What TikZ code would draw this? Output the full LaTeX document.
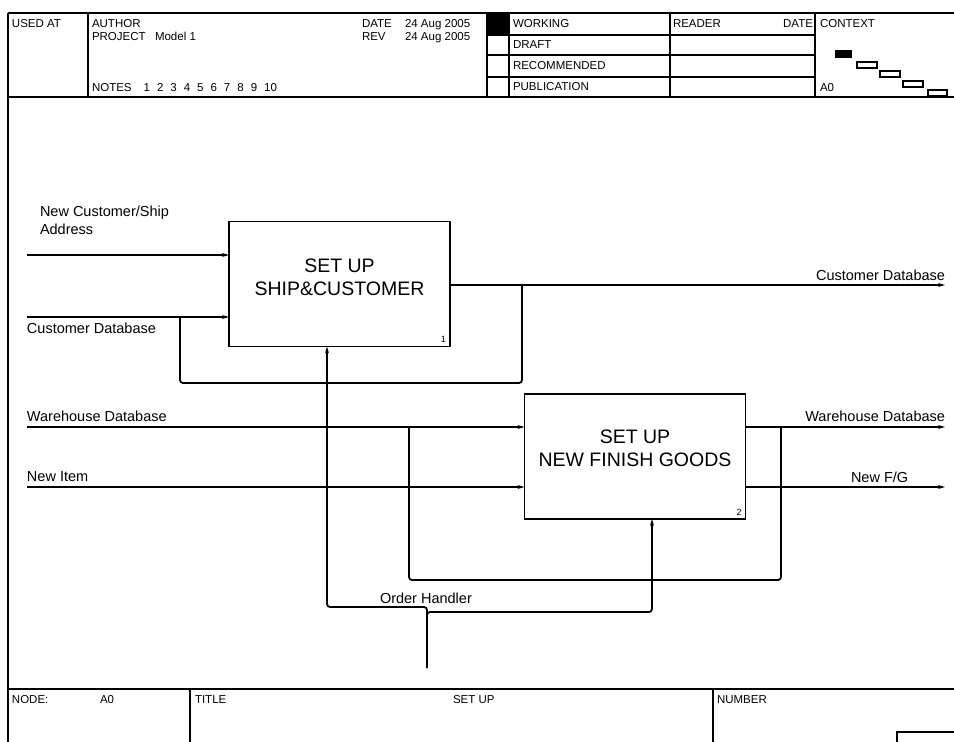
\documentclass[tikz,border=0pt]{standalone}
\usepackage{fontspec}
\setmainfont{Liberation Sans}
\usetikzlibrary{arrows.meta,positioning,calc}

\begin{document}
\begin{tikzpicture}[
    x=1pt, y=-1pt,
    every node/.style={inner sep=0pt, outer sep=0pt},
    process/.style={rectangle, draw, line width=1.8pt, minimum width=221pt, minimum height=125pt},
    boxtext/.style={align=center, font=\fontsize{19.5}{23}\selectfont},
    boxno/.style={anchor=south east, font=\fontsize{9}{10}\selectfont},
    lbl/.style={anchor=west, align=left, font=\fontsize{14.5}{18}\selectfont},
    hdr/.style={anchor=west, text height=8.5pt, text depth=1.5pt, font=\fontsize{11.5}{12}\selectfont},
    form/.style={line width=1.4pt},
    flow/.style={line width=1.8pt, rounded corners=3pt},
    arrow/.style={flow, -{Stealth[length=7pt,width=4pt]}}
]
\useasboundingbox (0,0) rectangle (954,742);

% Header form
\draw[form] (8,13) -- (954,13);
\draw[form] (8,97) -- (954,97);
\draw[form] (8,13) -- (8,742);
\foreach \xx in {88,487,509,670,815} \draw[form] (\xx,13) -- (\xx,97);
\foreach \yy in {35,55,77} \draw[form] (487,\yy) -- (815,\yy);
\fill (487,13) rectangle (509,35);

\node[hdr] (used_at) at (12,24) {USED AT};
\node[hdr] (author) at (92,24) {AUTHOR};
\node[hdr] (project) at (92,37) {PROJECT};
\node[hdr] (model) at (155,37) {Model 1};
\node[hdr] (notes) at (92,88) {NOTES\hspace{12pt}1\hspace{7pt}2\hspace{7pt}3\hspace{7pt}4\hspace{7pt}5\hspace{7pt}6\hspace{7pt}7\hspace{7pt}8\hspace{7pt}9\hspace{7pt}10};
\node[hdr] (date) at (362,24) {DATE};
\node[hdr] (date_val) at (405,24) {24 Aug 2005};
\node[hdr] (rev) at (362,37) {REV};
\node[hdr] (rev_val) at (405,37) {24 Aug 2005};
\node[hdr] (working) at (513,24) {WORKING};
\node[hdr] (draft) at (513,45) {DRAFT};
\node[hdr] (recommended) at (513,66) {RECOMMENDED};
\node[hdr] (publication) at (513,87) {PUBLICATION};
\node[hdr] (reader) at (673,24) {READER};
\node[hdr, anchor=east] (reader_date) at (813,24) {DATE};
\node[hdr] (context) at (820,24) {CONTEXT};
\node[hdr] (context_node) at (820,88) {A0};

% Context boxes
\fill (835,50) rectangle (852,58);
\draw[form] (857,62) rectangle (877,68);
\draw[form] (880,71) rectangle (900,77);
\draw[form] (903,81) rectangle (923,87);
\draw[form] (928,90) rectangle (947,96);

% Footer form
\draw[line width=2.5pt] (8,689) -- (954,689);
\draw[form] (190,689) -- (190,742);
\draw[form] (713,689) -- (713,742);
\draw[form] (954,732) -- (897,732) -- (897,742);
\node[hdr] (node_lbl) at (12,700) {NODE:};
\node[hdr] (node_val) at (100,700) {A0};
\node[hdr] (title_lbl) at (195,700) {TITLE};
\node[hdr] (title_val) at (453,700) {SET UP};
\node[hdr] (number_lbl) at (717,700) {NUMBER};

% Activity boxes
\node[process] (ship_cust) at (339.5,284) {};
\node[boxtext] (ship_cust_txt) at ($(ship_cust)+(0,-7)$) {SET UP\\SHIP\&CUSTOMER};
\node[boxno] (ship_cust_no) at ($(ship_cust.south east)+(-4,-4)$) {1};

\node[process] (new_goods) at (635,456.5) {};
\node[boxtext] (new_goods_txt) at ($(new_goods)+(0,-8)$) {SET UP\\NEW FINISH GOODS};
\node[boxno] (new_goods_no) at ($(new_goods.south east)+(-4,-4)$) {2};

% Free ends
\coordinate (in_addr) at (27,255);
\coordinate (in_cust) at (27,317);
\coordinate (out_cust) at (945,285);
\coordinate (in_wh) at (27,427);
\coordinate (in_item) at (27,487);
\coordinate (out_wh) at (945,427);
\coordinate (out_fg) at (945,487);
\coordinate (order_in) at (427,668);

% Connections
\draw[arrow] (in_addr) -- (in_addr -| ship_cust.west);
\draw[arrow] (in_cust) -- (in_cust -| ship_cust.west);
\draw[arrow] (out_cust -| ship_cust.east) -- (out_cust);
\draw[flow] (522,0 |- out_cust) -- (522,383) -- (180,383) -- (180,0 |- in_cust);

\draw[arrow] (in_wh) -- (in_wh -| new_goods.west);
\draw[arrow] (in_item) -- (in_item -| new_goods.west);
\draw[arrow] (out_wh -| new_goods.east) -- (out_wh);
\draw[arrow] (out_fg -| new_goods.east) -- (out_fg);
\draw[flow] (781,0 |- out_wh) -- (781,580) -- (409,580) -- (409,0 |- in_wh);

\draw[arrow] (order_in) -- (427,607) -- (327,607) -- (327,0 |- ship_cust.south);
\draw[arrow] (order_in) -- (427,612) -- (652,612) -- (652,0 |- new_goods.south);

% Labels
\node[lbl, anchor=north west] (lbl_addr) at (40,206) {New Customer/Ship\\Address};
\node[lbl] (lbl_cust_in) at (27,328) {Customer Database};
\node[lbl, anchor=east] (lbl_cust_out) at (945,275) {Customer Database};
\node[lbl] (lbl_wh_in) at (27,416) {Warehouse Database};
\node[lbl] (lbl_item) at (27,477) {New Item};
\node[lbl, anchor=east] (lbl_wh_out) at (945,416) {Warehouse Database};
\node[lbl] (lbl_fg) at (851,477) {New F/G};
\node[lbl] (lbl_order) at (380,598) {Order Handler};

\end{tikzpicture}
\end{document}
